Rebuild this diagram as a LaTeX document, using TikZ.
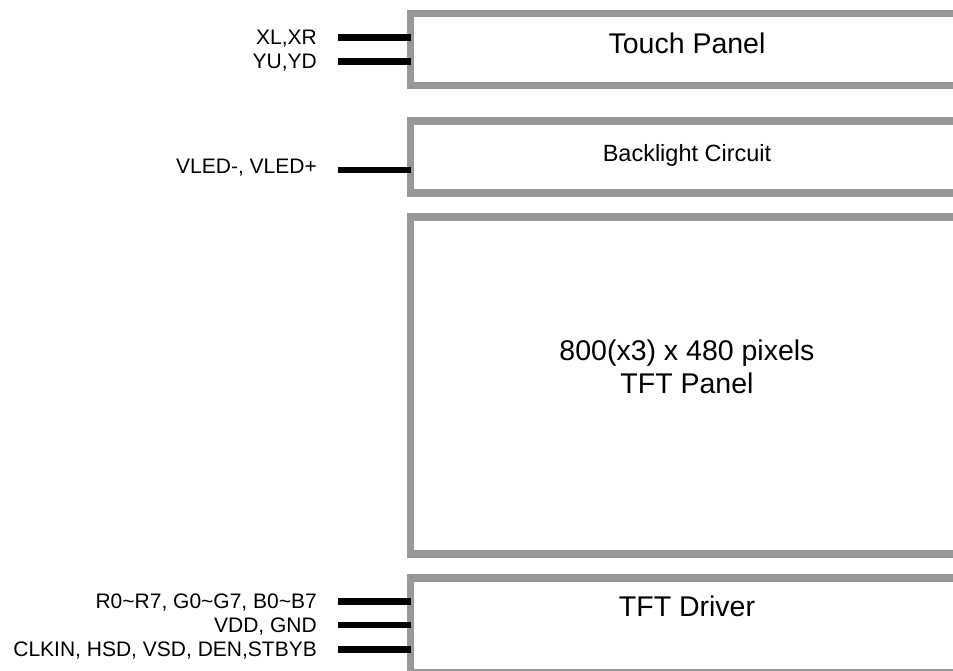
\documentclass[tikz,border=0pt]{standalone}
\usepackage{fontspec}
\setmainfont{Liberation Sans}
\definecolor{boxgray}{RGB}{152,152,152}
\tikzset{
  block/.style={draw=boxgray, line width=7.5pt, inner sep=0pt, outer sep=0pt, minimum width=553pt},
  wire/.style={line width=6.5pt},
  pin/.style={anchor=base east, inner sep=0pt, font=\fontsize{21}{24}\selectfont},
  title/.style={anchor=base, inner sep=0pt, font=\fontsize{28.5}{33}\selectfont}
}
\begin{document}
\begin{tikzpicture}[x=1pt,y=-1pt]
\clip (0,0) rectangle (953,671);
% blocks, open past the right edge
\node[block, minimum height=72pt]   (touch)     at (687,49.5)   {};
\node[block, minimum height=72pt]   (backlight) at (687,157)    {};
\node[block, minimum height=337pt]  (panel)     at (687,385.5)  {};
\node[block, minimum height=94.5pt] (driver)    at (687,625.25) {};

\node[title] (touchtitle) at (687,53.3) {Touch Panel};
\node[title, font=\fontsize{23.5}{28}\selectfont] (backlighttitle) at (687,162) {Backlight Circuit};
\node[title] (panelres)   at (687,360) {800(x3) x 480 pixels};
\node[title] (paneltitle) at (687,393) {TFT Panel};
\node[title] (drivertitle) at (687,616) {TFT Driver};

% pins
\coordinate (xlxr) at (338,37.5);
\coordinate (yuyd) at (338,61.5);
\coordinate (vled) at (338,170);
\coordinate (rgb)  at (338,601.5);
\coordinate (vdd)  at (338,625);
\coordinate (ctrl) at (338,649.5);

\foreach \p/\b in {xlxr/touch, yuyd/touch, vled/backlight, rgb/driver, vdd/driver, ctrl/driver}
  \draw[wire] (\p) -- (\p -| \b.west);

\node[pin] (xlxrlabel) at ([xshift=-21pt,yshift=-7pt]xlxr) {XL,XR};
\node[pin] (yuydlabel) at ([xshift=-21pt,yshift=-7pt]yuyd) {YU,YD};
\node[pin] (vledlabel) at ([xshift=-21pt,yshift=-4pt]vled) {VLED-, VLED+};
\node[pin] (rgblabel)  at ([xshift=-21pt,yshift=-7pt]rgb)  {R0\char`~R7, G0\char`~G7, B0\char`~B7};
\node[pin] (vddlabel)  at ([xshift=-21pt,yshift=-7pt]vdd)  {VDD, GND};
\node[pin] (ctrllabel) at ([xshift=-21pt,yshift=-7pt]ctrl) {CLKIN, HSD, VSD, DEN,STBYB};
\end{tikzpicture}
\end{document}
